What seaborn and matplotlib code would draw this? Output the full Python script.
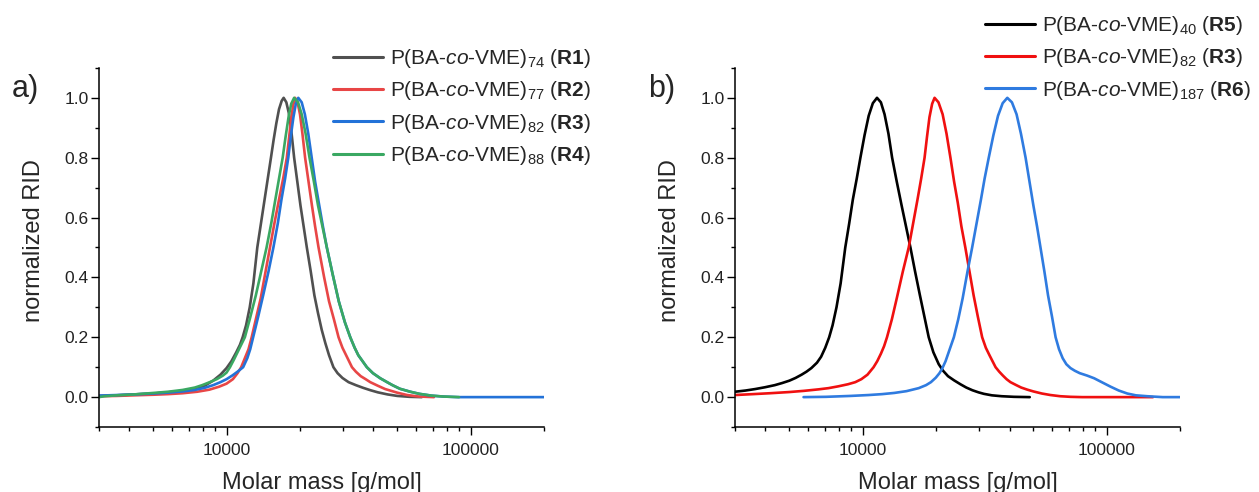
import numpy as np
import pandas as pd
import matplotlib
matplotlib.use("Agg")
import matplotlib.pyplot as plt
import seaborn as sns
from matplotlib.ticker import LogLocator, MultipleLocator, FixedLocator, NullFormatter

# ---------------- data (log10 molar mass, normalized RID) ----------------
# panel a
r1_logm = [3.477, 3.55, 3.62, 3.70, 3.76, 3.82, 3.87, 3.91, 3.945, 3.975, 4.00, 4.02, 4.04, 4.055, 4.066,
           4.08, 4.095, 4.11, 4.126, 4.14, 4.154, 4.168, 4.182, 4.193, 4.204, 4.215, 4.226, 4.234, 4.245,
           4.255, 4.266, 4.277, 4.29, 4.303, 4.316, 4.329, 4.345, 4.36, 4.375, 4.39, 4.405, 4.42, 4.438,
           4.455, 4.475, 4.50, 4.53, 4.56, 4.59, 4.62, 4.66, 4.70, 4.75, 4.80]
r1_rid = [0.004, 0.006, 0.009, 0.012, 0.016, 0.021, 0.028, 0.038, 0.055, 0.075, 0.097, 0.12, 0.15, 0.175, 0.20,
          0.24, 0.30, 0.38, 0.50, 0.575, 0.65, 0.725, 0.80, 0.86, 0.915, 0.962, 0.99, 1.00, 0.985,
          0.95, 0.885, 0.80, 0.72, 0.64, 0.57, 0.50, 0.42, 0.34, 0.28, 0.225, 0.18, 0.14, 0.10,
          0.08, 0.064, 0.05, 0.04, 0.031, 0.023, 0.016, 0.009, 0.004, 0.001, 0.0]

r2_logm = [3.477, 3.55, 3.62, 3.70, 3.76, 3.82, 3.88, 3.93, 3.97, 4.00, 4.026, 4.045, 4.06, 4.075, 4.09,
           4.103, 4.12, 4.14, 4.16, 4.178, 4.196, 4.215, 4.232, 4.247, 4.256, 4.264, 4.273, 4.281, 4.291,
           4.301, 4.311, 4.322, 4.336, 4.35, 4.363, 4.377, 4.40, 4.42, 4.44, 4.459, 4.475, 4.49, 4.514,
           4.53, 4.55, 4.57, 4.589, 4.62, 4.65, 4.699, 4.74, 4.786, 4.85]
r2_rid = [0.003, 0.004, 0.006, 0.008, 0.010, 0.013, 0.018, 0.025, 0.035, 0.045, 0.06, 0.08, 0.10, 0.13, 0.16,
          0.20, 0.26, 0.33, 0.42, 0.50, 0.58, 0.66, 0.73, 0.80, 0.865, 0.925, 0.975, 1.00, 0.985,
          0.945, 0.88, 0.80, 0.72, 0.64, 0.57, 0.50, 0.40, 0.32, 0.26, 0.20, 0.165, 0.14, 0.10,
          0.085, 0.07, 0.06, 0.05, 0.038, 0.027, 0.015, 0.007, 0.002, 0.0]

r3a_logm = [3.477, 3.55, 3.62, 3.70, 3.76, 3.82, 3.87, 3.91, 3.945, 3.975, 4.00, 4.025, 4.045, 4.068, 4.085,
            4.097, 4.109, 4.13, 4.15, 4.172, 4.192, 4.21, 4.225, 4.24, 4.253, 4.263, 4.274, 4.284, 4.294,
            4.308, 4.321, 4.335, 4.349, 4.363, 4.38, 4.395, 4.411, 4.435, 4.46, 4.485, 4.507, 4.525, 4.54,
            4.575, 4.60, 4.63, 4.658, 4.68, 4.71, 4.753, 4.79, 4.84, 4.887, 4.95, 5.10, 5.304]
r3a_rid = [0.005, 0.007, 0.009, 0.012, 0.015, 0.019, 0.024, 0.031, 0.04, 0.05, 0.06, 0.073, 0.085, 0.10, 0.13,
           0.16, 0.20, 0.27, 0.34, 0.42, 0.50, 0.58, 0.66, 0.73, 0.80, 0.87, 0.935, 0.98, 1.00,
           0.985, 0.945, 0.88, 0.80, 0.72, 0.64, 0.57, 0.50, 0.41, 0.32, 0.25, 0.20, 0.165, 0.14,
           0.10, 0.08, 0.063, 0.05, 0.04, 0.028, 0.018, 0.011, 0.005, 0.002, 0.0, 0.0, 0.0]

r4_logm = [3.477, 3.50, 3.55, 3.62, 3.70, 3.76, 3.82, 3.87, 3.90, 3.931, 3.96, 3.985, 4.00, 4.014, 4.03,
           4.045, 4.06, 4.075, 4.095, 4.12, 4.142, 4.164, 4.183, 4.20, 4.215, 4.230, 4.242, 4.254, 4.265,
           4.277, 4.293, 4.308, 4.324, 4.340, 4.358, 4.375, 4.393, 4.411, 4.435, 4.46, 4.485, 4.507, 4.525,
           4.54, 4.575, 4.60, 4.63, 4.658, 4.68, 4.71, 4.753, 4.79, 4.84, 4.887, 4.953]
r4_rid = [0.0, 0.003, 0.006, 0.009, 0.014, 0.018, 0.024, 0.032, 0.04, 0.05, 0.06, 0.072, 0.082, 0.10, 0.125,
          0.15, 0.175, 0.20, 0.26, 0.34, 0.42, 0.50, 0.58, 0.66, 0.73, 0.80, 0.87, 0.935, 0.98,
          1.00, 0.985, 0.945, 0.88, 0.80, 0.72, 0.64, 0.57, 0.50, 0.41, 0.32, 0.25, 0.20, 0.165,
          0.14, 0.10, 0.08, 0.063, 0.05, 0.04, 0.028, 0.018, 0.011, 0.005, 0.002, 0.0]

# panel b
r5_logm = [3.477, 3.52, 3.56, 3.60, 3.64, 3.67, 3.70, 3.725, 3.75, 3.77, 3.79, 3.813, 3.83, 3.847, 3.863,
           3.877, 3.893, 3.91, 3.929, 3.945, 3.96, 3.976, 3.991, 4.008, 4.025, 4.042, 4.059, 4.075, 4.09,
           4.106, 4.121, 4.14, 4.16, 4.178, 4.196, 4.215, 4.235, 4.253, 4.271, 4.29, 4.312, 4.33, 4.35,
           4.375, 4.401, 4.425, 4.45, 4.475, 4.497, 4.53, 4.57, 4.62, 4.685]
r5_rid = [0.018, 0.022, 0.027, 0.033, 0.040, 0.047, 0.055, 0.064, 0.075, 0.085, 0.097, 0.115, 0.135, 0.165, 0.20,
          0.24, 0.30, 0.38, 0.50, 0.58, 0.66, 0.73, 0.80, 0.875, 0.94, 0.982, 1.00, 0.985, 0.945,
          0.88, 0.80, 0.72, 0.64, 0.57, 0.50, 0.42, 0.34, 0.27, 0.20, 0.15, 0.11, 0.088, 0.07,
          0.056, 0.043, 0.032, 0.023, 0.016, 0.011, 0.006, 0.003, 0.001, 0.0]

r3b_logm = [3.477, 3.55, 3.62, 3.70, 3.76, 3.82, 3.86, 3.90, 3.94, 3.97, 3.995, 4.02, 4.045, 4.06, 4.075,
            4.088, 4.10, 4.12, 4.14, 4.165, 4.189, 4.207, 4.225, 4.24, 4.254, 4.264, 4.274, 4.285, 4.295,
            4.311, 4.328, 4.344, 4.360, 4.375, 4.39, 4.405, 4.421, 4.438, 4.455, 4.472, 4.490, 4.505, 4.52,
            4.545, 4.56, 4.575, 4.59, 4.606, 4.63, 4.65, 4.675, 4.70, 4.735, 4.77, 4.81, 4.852, 4.90, 5.19]
r3b_rid = [0.007, 0.010, 0.013, 0.017, 0.021, 0.026, 0.030, 0.036, 0.043, 0.05, 0.06, 0.075, 0.10, 0.12, 0.145,
           0.17, 0.20, 0.26, 0.33, 0.42, 0.50, 0.58, 0.66, 0.73, 0.80, 0.87, 0.935, 0.98, 1.00,
           0.985, 0.945, 0.88, 0.80, 0.72, 0.65, 0.57, 0.50, 0.42, 0.34, 0.27, 0.20, 0.165, 0.14,
           0.10, 0.085, 0.072, 0.06, 0.05, 0.04, 0.032, 0.025, 0.019, 0.012, 0.007, 0.003, 0.001, 0.0, 0.0]

r6_logm = [3.758, 3.85, 3.95, 4.025, 4.08, 4.13, 4.18, 4.23, 4.26, 4.28, 4.30, 4.315, 4.326, 4.34, 4.357,
           4.374, 4.392, 4.41, 4.43, 4.449, 4.467, 4.485, 4.50, 4.517, 4.536, 4.555, 4.574, 4.593, 4.612,
           4.631, 4.649, 4.668, 4.684, 4.70, 4.715, 4.729, 4.745, 4.76, 4.776, 4.791, 4.805, 4.82, 4.835,
           4.852, 4.87, 4.89, 4.92, 4.949, 4.98, 5.016, 5.05, 5.085, 5.12, 5.167, 5.23, 5.304]
r6_rid = [0.0, 0.001, 0.004, 0.007, 0.010, 0.014, 0.020, 0.03, 0.04, 0.05, 0.065, 0.08, 0.095, 0.12, 0.16,
          0.20, 0.26, 0.33, 0.42, 0.50, 0.58, 0.66, 0.73, 0.80, 0.875, 0.94, 0.982, 1.00, 0.985,
          0.945, 0.88, 0.80, 0.72, 0.64, 0.57, 0.50, 0.42, 0.34, 0.27, 0.20, 0.16, 0.13, 0.11,
          0.097, 0.088, 0.08, 0.072, 0.063, 0.05, 0.035, 0.022, 0.012, 0.006, 0.003, 0.0, 0.0]

labels_a = [r"P(BA-$\mathit{co}$-VME)$_{74}$ ($\mathbf{R1}$)",
            r"P(BA-$\mathit{co}$-VME)$_{77}$ ($\mathbf{R2}$)",
            r"P(BA-$\mathit{co}$-VME)$_{82}$ ($\mathbf{R3}$)",
            r"P(BA-$\mathit{co}$-VME)$_{88}$ ($\mathbf{R4}$)"]
labels_b = [r"P(BA-$\mathit{co}$-VME)$_{40}$ ($\mathbf{R5}$)",
            r"P(BA-$\mathit{co}$-VME)$_{82}$ ($\mathbf{R3}$)",
            r"P(BA-$\mathit{co}$-VME)$_{187}$ ($\mathbf{R6}$)"]
colors_a = ["#505050", "#e84646", "#2372d8", "#3aa862"]
colors_b = ["#000000", "#f01010", "#2f7be0"]

x_ticks = [10000, 100000]
y_ticks = [0.0, 0.2, 0.4, 0.6, 0.8, 1.0]

# ---------------- style ----------------
sns.set_style("ticks")
plt.rcParams["font.family"] = ["Liberation Sans", "DejaVu Sans"]
plt.rcParams["mathtext.fontset"] = "custom"
plt.rcParams["mathtext.rm"] = "Liberation Sans"
plt.rcParams["mathtext.it"] = "Liberation Sans:italic"
plt.rcParams["mathtext.bf"] = "Liberation Sans:bold"


def make_df(series, labels):
    frames = []
    for (lm, rid), lab in zip(series, labels):
        frames.append(pd.DataFrame({"M": np.power(10.0, lm), "RID": rid, "sample": lab}))
    return pd.concat(frames, ignore_index=True)


df_a = make_df([(r1_logm, r1_rid), (r2_logm, r2_rid), (r3a_logm, r3a_rid), (r4_logm, r4_rid)], labels_a)
df_b = make_df([(r5_logm, r5_rid), (r3b_logm, r3b_rid), (r6_logm, r6_rid)], labels_b)

fig = plt.figure(figsize=(12.59, 4.92), dpi=100)
ax_a = fig.add_axes([0.0786, 0.132, 0.3535, 0.730])
ax_b = fig.add_axes([0.5838, 0.132, 0.3535, 0.730])

for ax, df, labels, colors in [(ax_a, df_a, labels_a, colors_a), (ax_b, df_b, labels_b, colors_b)]:
    sns.lineplot(data=df, x="M", y="RID", hue="sample", hue_order=labels,
                 palette=dict(zip(labels, colors)), estimator=None, sort=False,
                 linewidth=1.9, ax=ax, legend=True)
    for line in ax.get_lines():
        line.set_solid_joinstyle("round")
    ax.set_xscale("log")
    ax.set_xlim(3000, 200000)
    ax.set_ylim(-0.1, 1.1)
    ax.xaxis.set_major_locator(FixedLocator(x_ticks))
    ax.set_xticklabels([str(t) for t in x_ticks])
    ax.xaxis.set_minor_locator(LogLocator(base=10, subs=np.arange(2, 10)))
    ax.xaxis.set_minor_formatter(NullFormatter())
    ax.yaxis.set_major_locator(FixedLocator(y_ticks))
    ax.set_yticklabels([f"{t:.1f}" for t in y_ticks])
    ax.yaxis.set_minor_locator(MultipleLocator(0.1))
    sns.despine(ax=ax)
    for s in ["left", "bottom"]:
        ax.spines[s].set_linewidth(1.1)
        ax.spines[s].set_color("black")
    ax.tick_params(axis="both", which="major", direction="out", length=5.5, width=1.0,
                   color="black", labelsize=12.5, labelcolor="#222222")
    ax.tick_params(axis="both", which="minor", direction="out", length=3, width=1.0, color="black")
    ax.tick_params(axis="x", which="major", pad=6)
    ax.tick_params(axis="y", which="major", pad=2)
    ax.set_xlabel("Molar mass [g/mol]", fontsize=17, labelpad=10)
    ax.set_ylabel("normalized RID", fontsize=17)
    ax.yaxis.set_label_coords(-0.121, 0.518)
    ax.get_legend().remove()

# legends
h_a, l_a = ax_a.get_legend_handles_labels()
leg_a = fig.legend(h_a, l_a, loc="upper left", bbox_to_anchor=(333 / 1259, 1 - 47 / 492),
                   frameon=False, fontsize=15, handlelength=2.4, handletextpad=0.35,
                   labelspacing=0.45, borderpad=0, borderaxespad=0)
for line in leg_a.get_lines():
    line.set_linewidth(2.2)

h_b, l_b = ax_b.get_legend_handles_labels()
leg_b = fig.legend(h_b, l_b, loc="upper left", bbox_to_anchor=(985 / 1259, 1 - 14 / 492),
                   frameon=False, fontsize=15, handlelength=2.4, handletextpad=0.35,
                   labelspacing=0.45, borderpad=0, borderaxespad=0)
for line in leg_b.get_lines():
    line.set_linewidth(2.2)

fig.text(12 / 1259, 1 - 97 / 492, "a)", fontsize=22, ha="left", va="baseline")
fig.text(648 / 1259, 1 - 97 / 492, "b)", fontsize=22, ha="left", va="baseline")

fig.savefig("out.png", dpi=100)
